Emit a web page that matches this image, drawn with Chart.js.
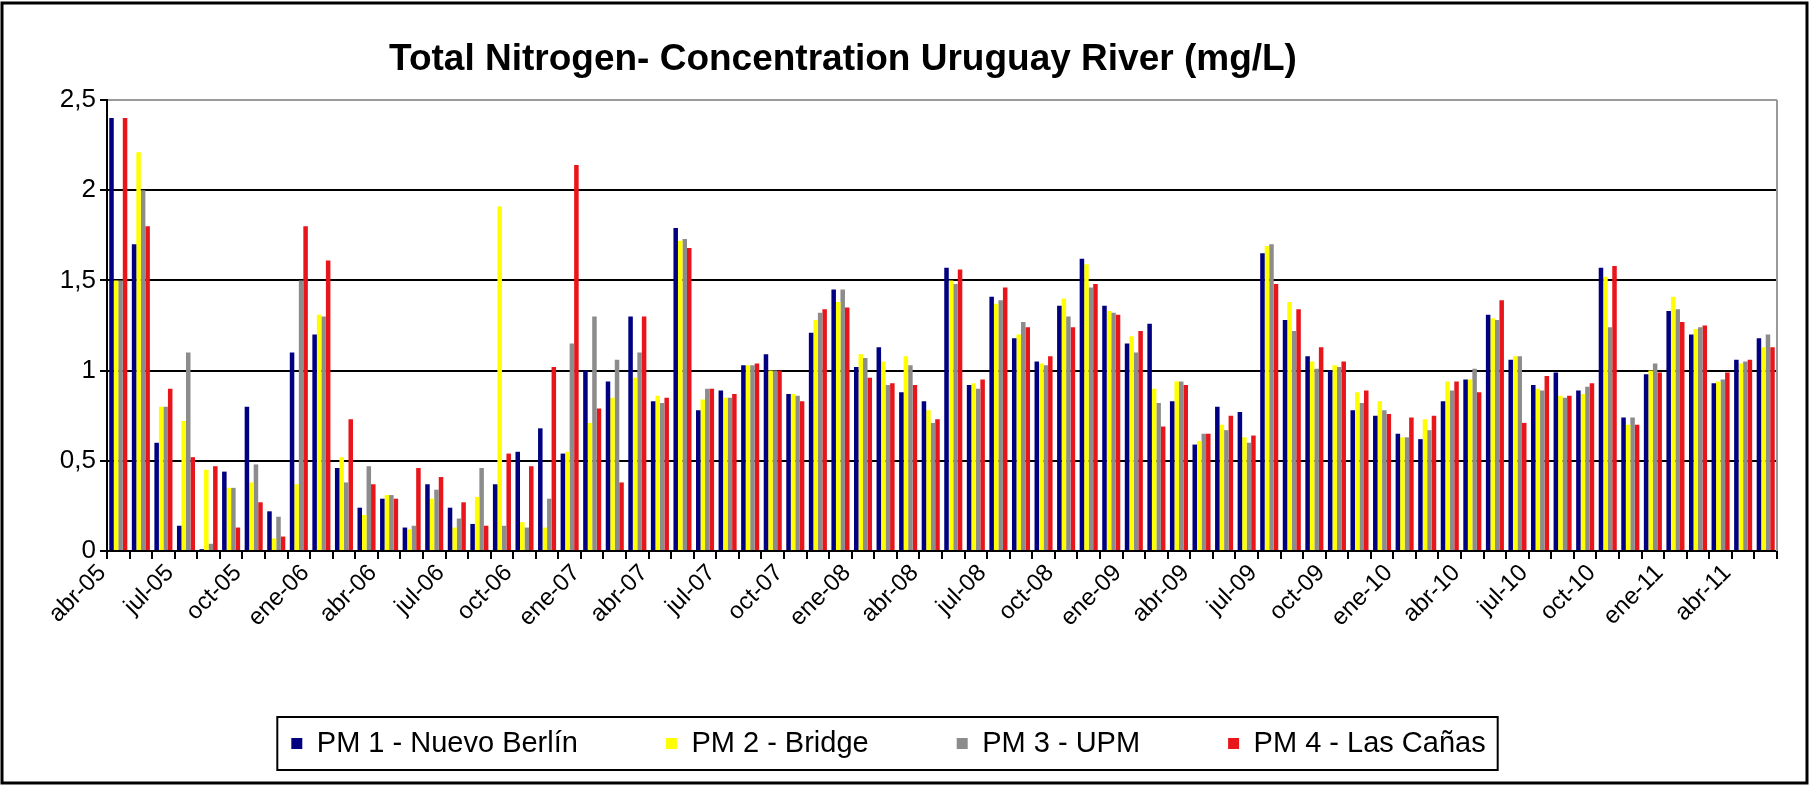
<!DOCTYPE html>
<html>
<head>
<meta charset="utf-8">
<title>Total Nitrogen - Uruguay River</title>
<script src="https://cdn.jsdelivr.net/npm/chart.js@4.4.1/dist/chart.umd.min.js"></script>
<style>
  html, body { margin: 0; padding: 0; background: #fff; }
  #wrap { width: 1810px; height: 785px; }
</style>
</head>
<body>
<div id="wrap"><canvas id="chart" width="1810" height="785"></canvas></div>
<script>
// categorías mensuales (abr-05 .. may-11)
const months = [
  'abr-05','may-05','jun-05','jul-05','ago-05','sep-05','oct-05','nov-05','dic-05',
  'ene-06','feb-06','mar-06','abr-06','may-06','jun-06','jul-06','ago-06','sep-06','oct-06','nov-06','dic-06',
  'ene-07','feb-07','mar-07','abr-07','may-07','jun-07','jul-07','ago-07','sep-07','oct-07','nov-07','dic-07',
  'ene-08','feb-08','mar-08','abr-08','may-08','jun-08','jul-08','ago-08','sep-08','oct-08','nov-08','dic-08',
  'ene-09','feb-09','mar-09','abr-09','may-09','jun-09','jul-09','ago-09','sep-09','oct-09','nov-09','dic-09',
  'ene-10','feb-10','mar-10','abr-10','may-10','jun-10','jul-10','ago-10','sep-10','oct-10','nov-10','dic-10',
  'ene-11','feb-11','mar-11','abr-11','may-11'
];

// PM 1 - Nuevo Berlín
const pm1 = [
  2.40,1.70,0.60,0.14,0.01,0.44,0.80,0.22,1.10,
  1.20,0.46,0.24,0.29,0.13,0.37,0.24,0.15,0.37,0.55,0.68,0.54,
  1.00,0.94,1.30,0.83,1.79,0.78,0.89,1.03,1.09,0.87,1.21,1.45,
  1.02,1.13,0.88,0.83,1.57,0.92,1.41,1.18,1.05,1.36,1.62,1.36,
  1.15,1.26,0.83,0.59,0.80,0.77,1.65,1.28,1.08,1.00,0.78,0.75,
  0.65,0.62,0.83,0.95,1.31,1.06,0.92,0.99,0.89,1.57,0.74,0.98,
  1.33,1.20,0.93,1.06,1.18
];
// PM 2 - Bridge
const pm2 = [
  1.50,2.21,0.80,0.72,0.45,0.35,0.38,0.07,0.37,
  1.31,0.52,0.20,0.31,0.12,0.29,0.13,0.30,1.91,0.16,0.13,0.55,
  0.71,0.85,0.96,0.86,1.72,0.84,0.85,1.03,1.00,0.87,1.28,1.38,
  1.09,1.05,1.08,0.78,1.50,0.93,1.37,1.20,1.04,1.40,1.59,1.33,
  1.19,0.90,0.94,0.61,0.70,0.63,1.69,1.38,1.05,1.03,0.88,0.83,
  0.63,0.73,0.94,0.95,1.29,1.08,0.90,0.86,0.87,1.52,0.70,1.00,
  1.41,1.23,0.94,1.04,1.13
];
// PM 3 - UPM
const pm3 = [
  1.50,2.00,0.80,1.10,0.04,0.35,0.48,0.19,1.50,
  1.30,0.38,0.47,0.31,0.14,0.34,0.18,0.46,0.14,0.13,0.29,1.15,
  1.30,1.06,1.10,0.82,1.73,0.90,0.85,1.03,1.00,0.86,1.32,1.45,
  1.07,0.92,1.03,0.71,1.48,0.90,1.39,1.27,1.03,1.30,1.46,1.32,
  1.10,0.82,0.94,0.65,0.67,0.60,1.70,1.22,1.01,1.02,0.82,0.78,
  0.63,0.67,0.89,1.01,1.28,1.08,0.89,0.85,0.91,1.24,0.74,1.04,
  1.34,1.24,0.95,1.05,1.20
];
// PM 4 - Las Cañas
const pm4 = [
  2.40,1.80,0.90,0.52,0.47,0.13,0.27,0.08,1.80,
  1.61,0.73,0.37,0.29,0.46,0.41,0.27,0.14,0.54,0.47,1.02,2.14,
  0.79,0.38,1.30,0.85,1.68,0.90,0.87,1.04,1.00,0.83,1.34,1.35,
  0.96,0.93,0.92,0.73,1.56,0.95,1.46,1.24,1.08,1.24,1.48,1.31,
  1.22,0.69,0.92,0.65,0.75,0.64,1.48,1.34,1.13,1.05,0.89,0.76,
  0.74,0.75,0.94,0.88,1.39,0.71,0.97,0.86,0.93,1.58,0.70,0.99,
  1.27,1.25,0.99,1.06,1.13
];

const seriesNames = ['PM 1 - Nuevo Berlín', 'PM 2 - Bridge', 'PM 3 - UPM', 'PM 4 - Las Cañas'];
const seriesColors = ['#000080', '#FFFF00', '#8C8C8C', '#E8151A'];
const yTicks = [0, 0.5, 1, 1.5, 2, 2.5];
const TITLE = 'Total Nitrogen- Concentration Uruguay River (mg/L)';

const FONT = "'Liberation Sans', Arial, sans-serif";
// bordes del área de trazado
const PLOT = { left: 107, top: 100, right: 1777, bottom: 551 };
const PAD_BOTTOM = 17;

// marco exterior, título, borde derecho del área y recuadro de leyenda
const decor = {
  id: 'decor',
  beforeDraw(chart) {
    const ctx = chart.ctx;
    ctx.save();
    ctx.fillStyle = '#fff';
    ctx.fillRect(0, 0, chart.width, chart.height);
    ctx.restore();
  },
  afterDraw(chart) {
    const ctx = chart.ctx;
    const a = chart.chartArea;
    ctx.save();
    ctx.strokeStyle = '#9a9a9a';
    ctx.lineWidth = 2;
    ctx.beginPath();
    ctx.moveTo(a.right, a.top);
    ctx.lineTo(a.right, a.bottom);
    ctx.stroke();

    ctx.fillStyle = '#000';
    ctx.font = 'bold 37px ' + FONT;
    ctx.textAlign = 'center';
    ctx.textBaseline = 'middle';
    ctx.fillText(TITLE, 843, 60);

    const hb = chart.legend.legendHitBoxes;
    if (hb && hb.length) {
      const l = Math.min(...hb.map(b => b.left));
      const r = Math.max(...hb.map(b => b.left + b.width));
      const t = hb[0].top, h = hb[0].height;
      ctx.strokeStyle = '#000';
      ctx.lineWidth = 2;
      ctx.strokeRect(l - 14, t - 12, r - l + 26, h + 24);
    }

    ctx.strokeStyle = '#000';
    ctx.lineWidth = 3;
    ctx.strokeRect(2, 3, chart.width - 5, chart.height - 5);
    ctx.restore();
  }
};

const seriesData = [pm1, pm2, pm3, pm4];

new Chart(document.getElementById('chart').getContext('2d'), {
  type: 'bar',
  data: {
    labels: months,
    datasets: seriesData.map((d, i) => ({
      label: seriesNames[i],
      data: d,
      backgroundColor: seriesColors[i],
      borderWidth: 0,
      categoryPercentage: 0.8,
      barPercentage: 1.0
    }))
  },
  options: {
    responsive: false,
    animation: false,
    layout: { padding: { left: 0, right: 1810 - PLOT.right, top: PLOT.top, bottom: PAD_BOTTOM } },
    plugins: {
      title: { display: false },
      tooltip: { enabled: false },
      legend: {
        position: 'bottom',
        labels: {
          font: { family: FONT, size: 29 },
          color: '#000',
          boxWidth: 11,
          boxHeight: 11,
          padding: 88
        }
      }
    },
    scales: {
      x: {
        offset: true,
        grid: {
          display: true,
          offset: true,
          drawOnChartArea: false,
          drawTicks: true,
          tickLength: 8,
          color: '#000',
          lineWidth: 2
        },
        border: { color: '#000', width: 2 },
        ticks: {
          autoSkip: false,
          minRotation: 45,
          maxRotation: 45,
          padding: 0,
          labelOffset: -16,
          color: '#000',
          font: { family: FONT, size: 24 },
          callback: (v, i) => (i % 3 === 0 ? months[i] : '')
        },
        afterFit(s) {
          s.height = s.chart.height - PAD_BOTTOM - s.chart.legend.height - PLOT.bottom;
        }
      },
      y: {
        min: yTicks[0],
        max: yTicks[yTicks.length - 1],
        afterBuildTicks(s) { s.ticks = yTicks.map(v => ({ value: v })); },
        grid: {
          color: c => (c.tick && c.tick.value === 2.5 ? '#9a9a9a' : '#000'),
          tickColor: '#000',
          lineWidth: 2,
          tickLength: 7
        },
        border: { color: '#000', width: 2 },
        ticks: {
          color: '#000',
          padding: 4,
          font: { family: FONT, size: 26 },
          callback: v => String(v).replace('.', ',')
        },
        afterFit(s) { s.width = PLOT.left; }
      }
    }
  },
  plugins: [decor]
});
</script>
</body>
</html>
